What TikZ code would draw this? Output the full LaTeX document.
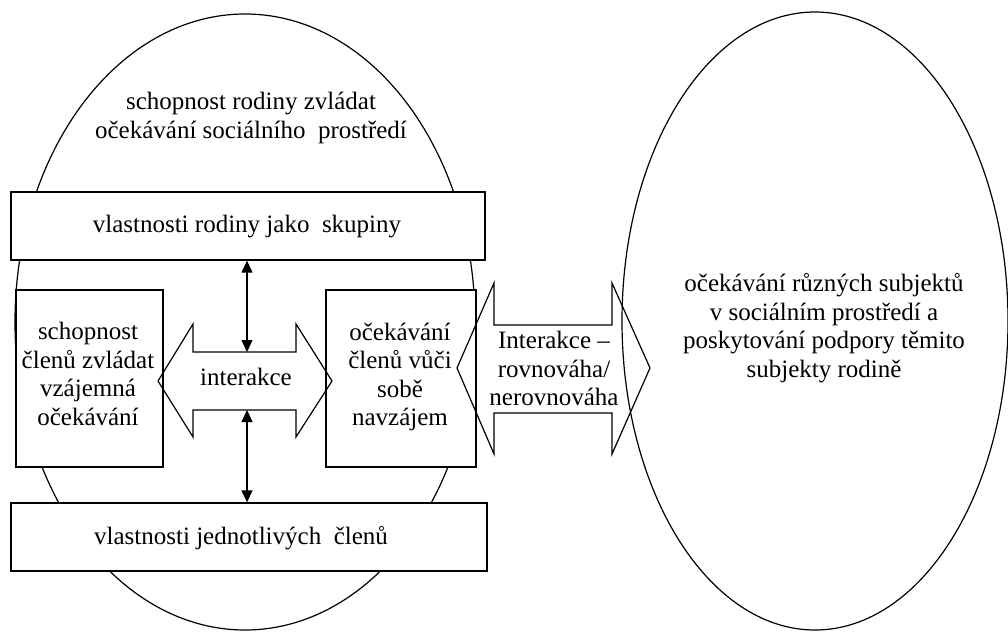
\documentclass[tikz,border=0pt]{standalone}
\usepackage{fontspec}
\setmainfont{Liberation Serif}
\usetikzlibrary{arrows.meta,shapes.geometric}
\begin{document}
\begin{tikzpicture}[x=1pt,y=-1pt,
  oval/.style={ellipse, draw=black, line width=1.2pt, inner sep=0pt},
  box/.style={rectangle, draw=black, fill=white, line width=1.3pt, inner sep=0pt},
  bigarrow/.style={draw=black, line width=1.2pt, line join=miter},
  txt/.style={align=center, font=\fontsize{25}{28.5}\selectfont, inner sep=0pt},
  biarrow/.style={{Triangle[length=12pt,width=11pt]}-{Triangle[length=12pt,width=11pt]}, line width=1.2pt}]
\useasboundingbox (0,0) rectangle (1008,632);
% ellipses
\node[oval, minimum width=460pt, minimum height=616pt] (family) at (245,322) {};
\node[oval, minimum width=386pt, minimum height=618pt] (env) at (815,321) {};
% boxes
\node[box, minimum width=474pt, minimum height=68pt] (topbox) at (248,226) {};
\node[box, minimum width=476pt, minimum height=68pt] (botbox) at (249,537) {};
\node[box, minimum width=147pt, minimum height=177pt] (leftbox) at (89.5,378.5) {};
\node[box, minimum width=150pt, minimum height=177pt] (midbox) at (401,378.5) {};
% double block arrows
\draw[bigarrow] (158,381) -- (193,324) -- (193,352) -- (296,352) -- (296,324) -- (332,381)
  -- (296,437) -- (296,410) -- (193,410) -- (193,437) -- cycle;
\draw[bigarrow] (457,368) -- (494,283) -- (494,325) -- (612,325) -- (612,283) -- (650,368)
  -- (612,454) -- (612,413) -- (494,413) -- (494,454) -- cycle;
\coordinate (iTop) at (247,352);
\coordinate (iBot) at (247,410);
% vertical connectors
\draw[biarrow] (topbox.south -| iTop) -- (iTop);
\draw[biarrow] (iBot) -- (botbox.north -| iBot);
% texts
\node[txt] (tFam) at (251,118) {schopnost rodiny zvládat\\očekávání sociálního\ \ prostředí};
\node[txt] (tTop) at (247,227) {vlastnosti rodiny jako\ \ skupiny};
\node[txt] (tBot) at (241,538) {vlastnosti jednotlivých\ \ členů};
\node[txt] (tLeft) at (88,374) {schopnost\\členů zvládat\\vzájemná\\očekávání};
\node[txt] (tInt) at (246,377) {interakce};
\node[txt] (tMid) at (400,377) {očekávání\\členů vůči\\sobě\\navzájem};
\node[txt] (tRight) at (554,368.5) {Interakce –\\rovnováha/\\nerovnováha};
\node[txt] (tEnv) at (824,328) {očekávání různých\ subjektů\\v sociálním prostředí a\\poskytování podpory těmito\\subjekty rodině};
\end{tikzpicture}
\end{document}
